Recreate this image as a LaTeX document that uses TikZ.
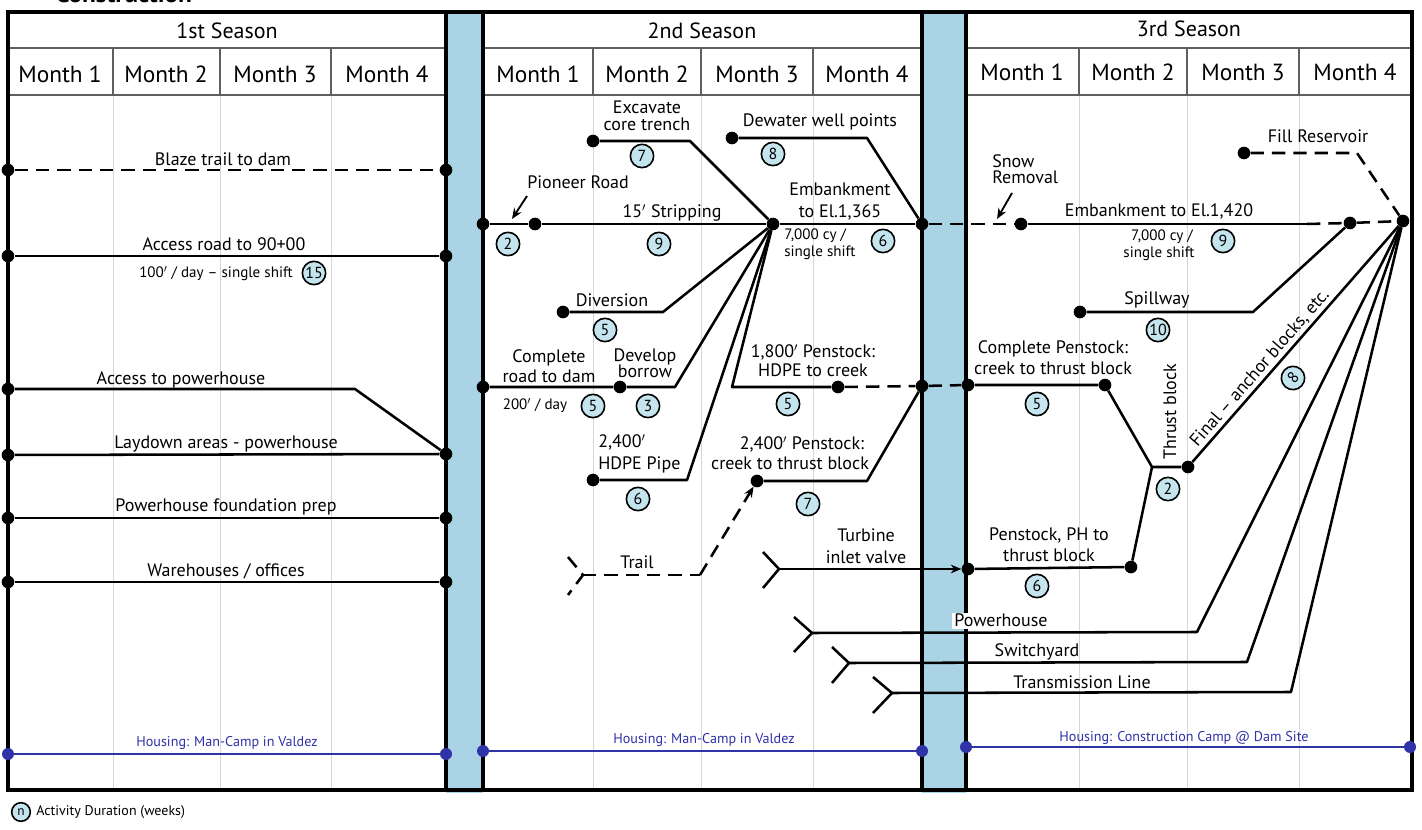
\documentclass[tikz,border=0pt]{standalone}
\usepackage{fontspec}
\setmainfont{PT Sans}
\usetikzlibrary{arrows.meta}
\definecolor{bandc}{RGB}{170,212,230}
\definecolor{badgec}{RGB}{196,228,238}
\definecolor{housec}{RGB}{48,50,168}
\definecolor{gridc}{RGB}{214,214,214}
\definecolor{headc}{RGB}{95,95,95}
\begin{document}
\begin{tikzpicture}[x=0.75pt,y=-0.75pt,
  frame/.style={line width=2.3pt},
  act/.style={line width=1.9pt, line join=round},
  dsh/.style={act, dash pattern=on 10pt off 6pt},
  dot/.style={circle, fill=black, inner sep=0pt, minimum size=9.5pt},
  hdot/.style={circle, fill=housec, inner sep=0pt, minimum size=9pt},
  badge/.style={circle, draw=black, line width=1.2pt, fill=badgec, inner sep=0pt, minimum size=17.5pt, font=\fontsize{12}{12}\selectfont},
  lbl/.style={font=\fontsize{13.5}{15}\selectfont, inner sep=0pt, anchor=base},
  sml/.style={font=\fontsize{11.3}{12}\selectfont, inner sep=0pt, anchor=base},
  hdr/.style={font=\fontsize{17.5}{19}\selectfont, inner sep=0pt},
  ssn/.style={font=\fontsize{16.5}{18}\selectfont, inner sep=0pt},
  hlbl/.style={font=\fontsize{10.6}{12}\selectfont, text=housec, inner sep=0pt, anchor=base},
  gridl/.style={gridc, line width=0.7pt},
  headl/.style={headc, line width=1.3pt},
  tip/.style={-{Stealth[length=8pt,width=6.5pt]}},
]
\useasboundingbox (0,0) rectangle (1422,830);
\fill[white] (0,0) rectangle (1422,830);
% title (cut off at top)
\node[anchor=base west, font=\bfseries\fontsize{19}{20}\selectfont, inner sep=0pt] (ttl) at (55,3) {Construction};
% bands
\fill[bandc] (446,10) rectangle (483,793);
\fill[bandc] (922,10) rectangle (966,793);
% grid lines
\foreach \x in {113,220,331,593,701,813,1079,1187,1299}
  \draw[gridl] (\x,95) -- (\x,788);
\foreach \x in {113,220,331,593,701,813,1079,1187,1299}
  \draw[headl] (\x,48) -- (\x,95);
% header lines
\draw[headl] (8,48) -- (446,48) (483,48) -- (922,48) (966,48) -- (1412,48);
\draw[headl] (8,95) -- (446,95) (483,95) -- (922,95) (966,95) -- (1412,95);
% frames
\draw[frame] (8,12) rectangle (446,790);
\draw[frame] (483,12) rectangle (922,790);
\draw[frame] (966,12) rectangle (1412,790);
\draw[frame] (8,12) -- (1412,12);
\draw[frame] (8,790) -- (1412,790);
% headers
\node[ssn] (s1) at (227,31) {1st Season};
\node[ssn] (s2) at (702,31) {2nd Season};
\node[ssn] (s3) at (1189,29) {3rd Season};
\node[hdr] (m11) at (60,74) {Month 1};
\node[hdr] (m12) at (166,74) {Month 2};
\node[hdr] (m13) at (275,74) {Month 3};
\node[hdr] (m14) at (387,74) {Month 4};
\node[hdr] (m21) at (538,74) {Month 1};
\node[hdr] (m22) at (647,74) {Month 2};
\node[hdr] (m23) at (757,74) {Month 3};
\node[hdr] (m24) at (867,74) {Month 4};
\node[hdr] (m31) at (1022,72) {Month 1};
\node[hdr] (m32) at (1133,72) {Month 2};
\node[hdr] (m33) at (1243,72) {Month 3};
\node[hdr] (m34) at (1355,72) {Month 4};

% ---------------- 1st season ----------------
\node[dot] (bz1) at (8,170) {};
\node[dot] (bz2) at (446,170) {};
\draw[dsh] (bz1) -- (bz2);
\node[lbl] (bzl) at (223,166) {Blaze trail to dam};

\node[dot] (ar1) at (8,256) {};
\node[dot] (ar2) at (446,256) {};
\draw[act] (ar1) -- (ar2);
\node[lbl] (arl) at (224,251) {Access road to 90+00};
\node[sml] (ars) at (216,278) {100$'$ / day -- single shift};
\node[badge] (arb) at (314,273) {15};

\node[dot] (ap1) at (8,389) {};
\coordinate (apk) at (355,389);
\node[dot] (ld2) at (446,454) {};
\draw[act] (ap1) -- (apk) -- (ld2);
\node[lbl] (apl) at (181,385) {Access to powerhouse};

\node[dot] (ld1) at (8,455) {};
\draw[act] (ld1) -- (ld2);
\node[lbl] (ldl) at (226,449) {Laydown areas - powerhouse};

\node[dot] (pf1) at (8,518) {};
\node[dot] (pf2) at (446,518) {};
\draw[act] (pf1) -- (pf2);
\node[lbl] (pfl) at (226,512) {Powerhouse foundation prep};

\node[dot] (wh1) at (8,582) {};
\node[dot] (wh2) at (446,582) {};
\draw[act] (wh1) -- (wh2);
\node[lbl] (whl) at (226,576) {Warehouses / offices};

% ---------------- 2nd season ----------------
\node[dot] (p0) at (483,224) {};
\node[dot] (p1) at (535,224) {};
\node[dot] (hub) at (773,224) {};
\node[dot] (e1) at (922,224) {};
\draw[act] (p0) -- (p1) -- (hub) -- (e1);
\node[lbl] (pnl) at (578,189) {Pioneer Road};
\coordinate (pna) at (527,196);
\coordinate (pnb) at (512,219);
\draw[act, line width=1.4pt, tip] (pna) -- (pnb);
\node[badge] (pnb2) at (508,244) {2};
\node[lbl] (stl) at (672,218) {15$'$ Stripping};
\node[badge] (stb) at (659,244) {9};

\node[dot] (ex1) at (593,141) {};
\coordinate (exk) at (690,141);
\draw[act] (ex1) -- (exk) -- (hub);
\node[lbl] (exl1) at (647,114) {Excavate};
\node[lbl] (exl2) at (647,131) {core trench};
\node[badge] (exb) at (642,156) {7};

\node[dot] (dw1) at (732,138) {};
\coordinate (dwk) at (867,138);
\draw[act] (dw1) -- (dwk) -- (e1);
\node[lbl] (dwl) at (820,127) {Dewater well points};
\node[badge] (dwb) at (773,154) {8};

\node[lbl] (eml1) at (840,196) {Embankment};
\node[lbl] (eml2) at (840,218) {to El.1,365};
\node[sml, anchor=base west] (ems1) at (784,240) {7,000 cy /};
\node[sml, anchor=base west] (ems2) at (784,257) {single shift};
\node[badge] (emb) at (883,241) {6};

\node[dot] (dv1) at (563,312) {};
\coordinate (dvk) at (663,312);
\draw[act] (dv1) -- (dvk) -- (hub);
\node[lbl] (dvl) at (612,307) {Diversion};
\node[badge] (dvb) at (605,330) {5};

\node[dot] (cr1) at (483,387) {};
\node[dot] (cr2) at (620,387) {};
\coordinate (crk) at (675,387);
\draw[act] (cr1) -- (cr2) -- (crk) -- (hub);
\node[lbl] (crl1) at (549,363) {Complete};
\node[lbl] (crl2) at (549,383) {road to dam};
\node[sml] (crs) at (535,410) {200$'$ / day};
\node[badge] (crb) at (593,406) {5};
\node[lbl] (dbl1) at (645,362) {Develop};
\node[lbl] (dbl2) at (645,378) {borrow};
\node[badge] (dbb) at (648,406) {3};

\node[dot] (hp1) at (593,480) {};
\coordinate (hpk) at (687,480);
\draw[act] (hp1) -- (hpk) -- (hub);
\node[lbl, anchor=base west] (hpl1) at (598,448) {2,400$'$};
\node[lbl, anchor=base west] (hpl2) at (598,470) {HDPE Pipe};
\node[badge] (hpb) at (638,499) {6};

\coordinate (p18k) at (732,387);
\node[dot] (p18) at (838,387) {};
\node[dot] (e2) at (922,386) {};
\draw[act] (hub) -- (p18k) -- (p18);
\draw[dsh] (p18) -- (e2);
\node[lbl] (p18l1) at (813,358) {1,800$'$ Penstock:};
\node[lbl] (p18l2) at (813,377) {HDPE to creek};
\node[badge] (p18b) at (788,404) {5};

\node[dot] (p24) at (757,481) {};
\coordinate (p24k) at (867,481);
\draw[act] (p24) -- (p24k) -- (e2);
\node[lbl] (p24l1) at (802,450) {2,400$'$ Penstock:};
\node[lbl] (p24l2) at (790,470) {creek to thrust block};
\node[badge] (p24b) at (808,504) {7};

% trail
\coordinate (tra) at (568,557);
\coordinate (trj) at (583,575);
\coordinate (trb) at (568,595);
\coordinate (trk) at (700,575);
\draw[dsh] (tra) -- (trj) -- (trb);
\draw[dsh] (trj) -- (trk);
\draw[dsh, tip] (trk) -- (p24);
\node[lbl] (trl) at (637,569) {Trail};

% turbine inlet valve
\coordinate (tva) at (763,552);
\coordinate (tvj) at (779,569);
\coordinate (tvb) at (763,588);
\node[dot] (e4) at (968,569) {};
\draw[act] (tva) -- (tvj) -- (tvb);
\draw[act, tip] (tvj) -- (e4);
\node[lbl] (tvl1) at (866,542) {Turbine};
\node[lbl] (tvl2) at (866,564) {inlet valve};

% ---------------- 3rd season ----------------
\node[dot] (sr) at (1021,224) {};
\coordinate (emk) at (1307,224);
\node[dot] (sp) at (1350,223) {};
\node[dot] (hub3) at (1403,221) {};
\draw[dsh] (e1) -- (sr);
\draw[act] (sr) -- (emk);
\draw[dsh] (emk) -- (sp) -- (hub3);
\node[lbl, anchor=base west] (snl1) at (992,168) {Snow};
\node[lbl, anchor=base west] (snl2) at (992,184) {Removal};
\coordinate (sna) at (1012,193);
\coordinate (snb) at (997,219);
\draw[act, line width=1.4pt, tip] (sna) -- (snb);
\node[lbl] (e3l) at (1159,217) {Embankment to El.1,420};
\node[sml] (e3s1) at (1162,241) {7,000 cy /};
\node[sml] (e3s2) at (1159,258) {single shift};
\node[badge] (e3b) at (1223,241) {9};

\node[dot] (fr) at (1244,153) {};
\coordinate (frk) at (1357,153);
\draw[dsh] (fr) -- (frk) -- (hub3);
\node[lbl] (frl) at (1318,143) {Fill Reservoir};

\node[dot] (sw1) at (1080,312) {};
\coordinate (swk) at (1253,312);
\draw[act] (sw1) -- (swk) -- (sp);
\node[lbl] (swl) at (1157,305) {Spillway};
\node[badge] (swb) at (1158,330) {10};

\node[dot] (e3) at (968,385) {};
\node[dot] (cp) at (1105,385) {};
\coordinate (tb1) at (1152,467);
\node[dot] (tb2) at (1188,467) {};
\node[dot] (pph) at (1131,567) {};
\draw[dsh] (e2) -- (e3);
\draw[act] (e3) -- (cp) -- (tb1) -- (tb2) -- (hub3);
\draw[act] (e4) -- (pph) -- (tb1);
\node[lbl] (cpl1) at (1053,354) {Complete Penstock:};
\node[lbl] (cpl2) at (1053,375) {creek to thrust block};
\node[badge] (cpb) at (1037,404) {5};
\node[lbl, anchor=center, rotate=90] (tbl) at (1170,412) {Thrust block};
\node[badge] (tbb) at (1168,489) {2};
\node[lbl, anchor=center, rotate=49] (fnl) at (1260,368) {Final -- anchor blocks, etc.};
\node[badge, rotate=49] (fnb) at (1293,378) {8};
\node[lbl] (ppl1) at (1049,541) {Penstock, PH to};
\node[lbl] (ppl2) at (1049,562) {thrust block};
\node[badge] (ppb) at (1037,586) {6};

% powerhouse, switchyard, transmission
\coordinate (pha) at (794,617);
\coordinate (phj) at (812,633);
\coordinate (phb) at (794,652);
\coordinate (phk) at (1197,632);
\draw[act] (pha) -- (phj) -- (phb);
\draw[act] (phj) -- (phk) -- (hub3);
\node[lbl, fill=white, inner xsep=2pt, inner ysep=1pt] (phl) at (1001,627) {Powerhouse};

\coordinate (sya) at (832,647);
\coordinate (syj) at (849,663);
\coordinate (syb) at (832,683);
\coordinate (syk) at (1247,662);
\draw[act] (sya) -- (syj) -- (syb);
\draw[act] (syj) -- (syk) -- (hub3);
\node[lbl] (syl) at (1037,657) {Switchyard};

\coordinate (tla) at (873,677);
\coordinate (tlj) at (892,693);
\coordinate (tlb) at (873,713);
\coordinate (tlk) at (1291,692);
\draw[act] (tla) -- (tlj) -- (tlb);
\draw[act] (tlj) -- (tlk) -- (hub3);
\node[lbl] (tll) at (1082,688) {Transmission Line};

% housing
\node[hdot] (h11) at (8,754) {};
\node[hdot] (h12) at (446,754) {};
\draw[housec, line width=2pt] (h11) -- (h12);
\node[hlbl] (h1l) at (227,746) {Housing: Man-Camp in Valdez};
\node[hdot] (h21) at (483,751) {};
\node[hdot] (h22) at (922,751) {};
\draw[housec, line width=2pt] (h21) -- (h22);
\node[hlbl] (h2l) at (704,743) {Housing: Man-Camp in Valdez};
\node[hdot] (h31) at (966,747) {};
\node[hdot] (h32) at (1410,747) {};
\draw[housec, line width=2pt] (h31) -- (h32);
\node[hlbl] (h3l) at (1184,741) {Housing: Construction Camp @ Dam Site};

% legend
\node[badge, minimum size=14pt, font=\fontsize{10}{10}\selectfont] (lgb) at (21,812) {n};
\node[anchor=west, font=\fontsize{10.5}{12}\selectfont, inner sep=0pt] (lgl) at (36,812) {Activity Duration (weeks)};
\end{tikzpicture}
\end{document}
